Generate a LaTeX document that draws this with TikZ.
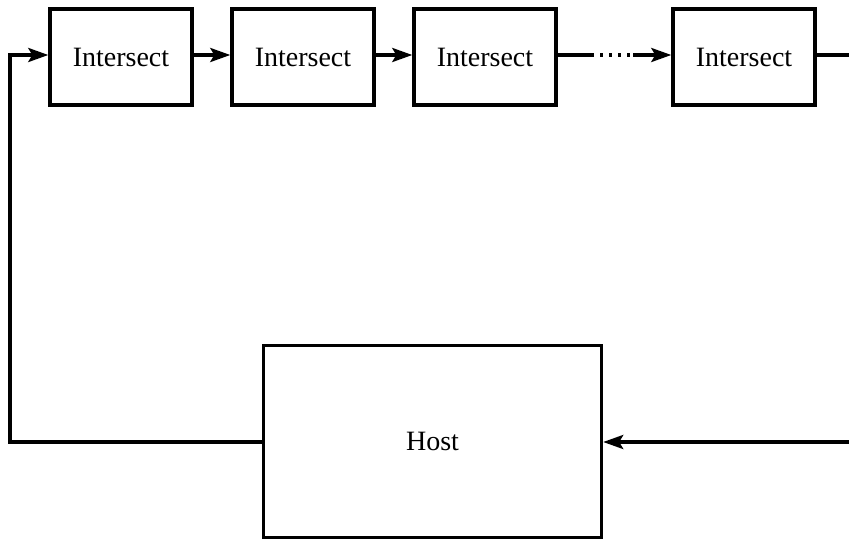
\documentclass[tikz,border=0pt]{standalone}
\usepackage{fontspec}
\setmainfont{Liberation Serif}
\usetikzlibrary{arrows.meta}
\begin{document}
\begin{tikzpicture}[x=1pt,y=-1pt,
  wire/.style={line width=3.4pt},
  flow/.style={wire,-{Stealth[length=20pt,width=14pt,inset=4pt]}},
  unit/.style={draw,line width=3.4pt,minimum width=142pt,minimum height=96pt,
    inner sep=0pt,font=\fontsize{28}{32}\selectfont},
  hostbox/.style={draw,line width=3.4pt,minimum width=338pt,minimum height=192pt,
    inner sep=0pt,font=\fontsize{28}{32}\selectfont}]
\useasboundingbox (0,0) rectangle (849,541);
% pipeline of intersect units
\node[unit] (i1) at (121,57) {Intersect};
\node[unit] (i2) at (303,57) {Intersect};
\node[unit] (i3) at (485,57) {Intersect};
\node[unit] (i4) at (744,57) {Intersect};
% host processor
\node[hostbox] (host) at (432.5,441.5) {Host};
% free ends and corners
\coordinate (loopL) at (10,55);
\coordinate (loopB) at (10,442);
\coordinate (outR) at (849,55);
\coordinate (inR) at (849,442);
\coordinate (gapA) at (594,55);
\coordinate (gapB) at (633,55);
% links between units
\draw[flow] (i1.east |- 0,55) -- (i2.west |- 0,55);
\draw[flow] (i2.east |- 0,55) -- (i3.west |- 0,55);
\draw[wire] (i3.east |- 0,55) -- (gapA);
\draw[line width=3.4pt,dash pattern=on 3pt off 6pt] ([xshift=6pt]gapA) -- ([xshift=-1pt]gapB);
\draw[flow] (gapB) -- (i4.west |- 0,55);
\draw[wire] (i4.east |- 0,55) -- (outR);
% return path into the host and back to the first unit
\draw[flow] (inR) -- (host.east |- inR);
\draw[flow] (host.west |- loopB) -- (loopB) -- (loopL) -- (i1.west |- loopL);
\end{tikzpicture}
\end{document}
